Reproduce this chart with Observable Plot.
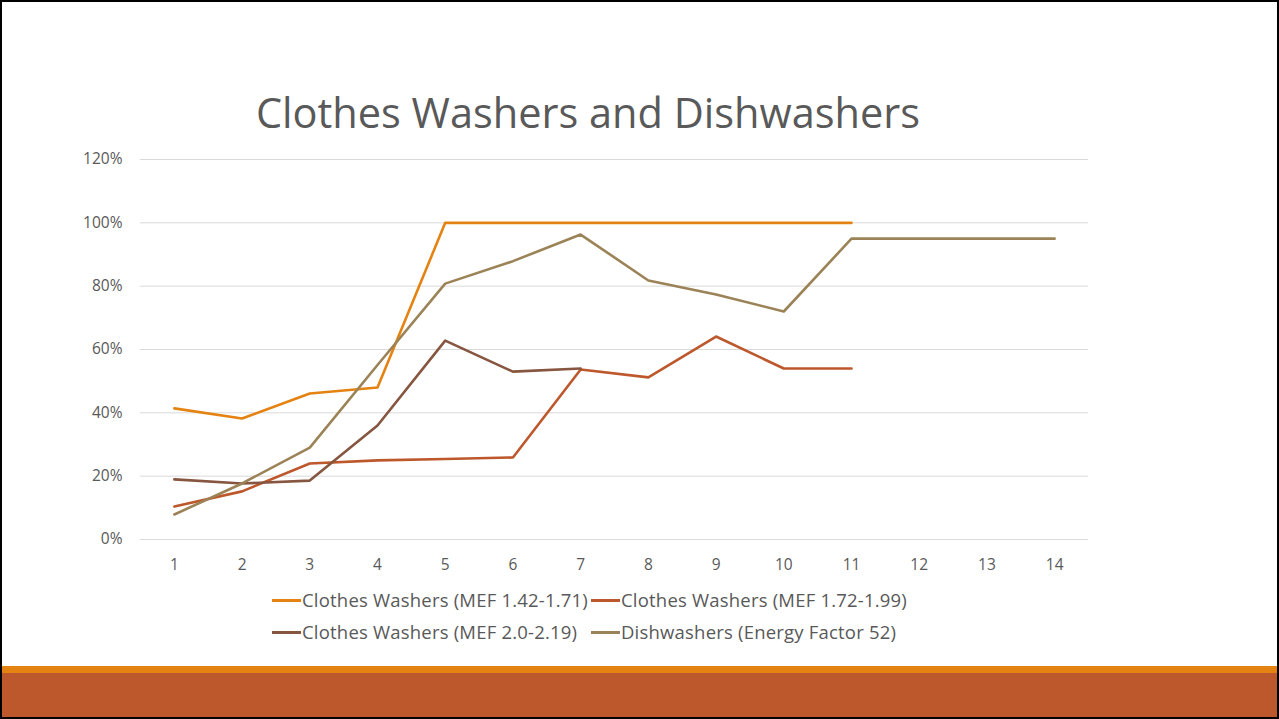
<!DOCTYPE html>
<html>
<head>
<meta charset="utf-8">
<script src="https://cdn.jsdelivr.net/npm/d3@7"></script>
<script src="https://cdn.jsdelivr.net/npm/@observablehq/plot@0.6"></script>
<style>
  html, body { margin: 0; padding: 0; background: #fff; }
  #slide {
    position: relative; width: 1279px; height: 719px; box-sizing: border-box;
    border: 2px solid #000; overflow: hidden; background: #fff;
    font-family: "Open Sans", sans-serif; color: #595959;
  }
  #title {
    position: absolute; left: 0; width: 1172px; top: 82px; text-align: center;
    font-size: 41.5px; font-weight: 400; color: #595959; line-height: 56px; white-space: nowrap;
  }
  #chart { position: absolute; left: -2px; top: -2px; width: 1279px; }
  #chart svg { max-width: none; }
  .legend-item {
    position: absolute; display: flex; align-items: center; font-size: 18.5px;
    color: #595959; white-space: nowrap; line-height: 22px; letter-spacing: 0.2px;
  }
  .legend-item .sw { width: 29px; height: 3px; margin-right: 1px; }
  #band1 { position: absolute; left: 0; right: 0; top: 664px; height: 7px; background: #E48312; }
  #band2 { position: absolute; left: 0; right: 0; top: 671px; bottom: 0; background: #BD582C; }
</style>
</head>
<body>
<div id="slide">
  <div id="title">Clothes Washers and Dishwashers</div>
  <div id="chart"></div>
  <div id="legend"></div>
  <div id="band1"></div>
  <div id="band2"></div>
</div>
<script>
// Year index along the x axis
const categories = [1, 2, 3, 4, 5, 6, 7, 8, 9, 10, 11, 12, 13, 14];

// Share of shipments meeting each level (null = no data)
const washersMef142 = [0.414, 0.382, 0.461, 0.48, 1.0, 1.0, 1.0, 1.0, 1.0, 1.0, 1.0, null, null, null];
const washersMef172 = [0.104, 0.152, 0.24, 0.25, 0.254, 0.259, 0.537, 0.512, 0.641, 0.54, 0.54, null, null, null];
const washersMef200 = [0.19, 0.177, 0.186, 0.36, 0.628, 0.53, 0.54, null, null, null, null, null, null, null];
const dishwashersEf52 = [0.079, 0.177, 0.29, 0.551, 0.808, 0.879, 0.963, 0.818, 0.774, 0.72, 0.95, 0.95, 0.95, 0.95];

const seriesNames = [
  "Clothes Washers (MEF 1.42-1.71)",
  "Clothes Washers (MEF 1.72-1.99)",
  "Clothes Washers (MEF 2.0-2.19)",
  "Dishwashers (Energy Factor 52)"
];
const seriesColors = ["#E48312", "#BD582C", "#865640", "#9B8357"];
const yTicks = [0, 0.2, 0.4, 0.6, 0.8, 1.0, 1.2];

const seriesValues = [washersMef142, washersMef172, washersMef200, dishwashersEf52];
const rows = [];
seriesValues.forEach((vals, i) => {
  vals.forEach((v, j) => rows.push({ series: seriesNames[i], x: categories[j], y: v }));
});

const chart = Plot.plot({
  width: 1279,
  height: 600,
  marginLeft: 140,
  marginRight: 191,
  marginTop: 159,
  marginBottom: 61,
  style: { fontFamily: "'Open Sans', sans-serif", fontSize: "15px", color: "#595959", background: "transparent" },
  x: { type: "point", domain: categories, padding: 0.5, round: false, label: null },
  y: { domain: [0, 1.2], label: null },
  color: { domain: seriesNames, range: seriesColors },
  marks: [
    Plot.gridY(yTicks, { stroke: "#d9d9d9", strokeOpacity: 1, strokeWidth: 1 }),
    Plot.axisY(yTicks, { tickSize: 0, tickPadding: 18, tickFormat: d => Math.round(d * 100) + "%", fill: "#595959", fontSize: 15.5 }),
    Plot.axisX(categories, { tickSize: 0, tickPadding: 19, fill: "#595959", fontSize: 15.5 }),
    Plot.line(rows, {
      x: "x", y: "y", z: "series", stroke: "series",
      strokeWidth: 2.6, strokeLinejoin: "round", strokeLinecap: "round"
    })
  ]
});
document.getElementById("chart").append(chart);

// Legend, two columns by two rows
const legend = document.getElementById("legend");
const legendPos = [[270, 587], [589, 587], [270, 619], [589, 619]];
seriesNames.forEach((name, i) => {
  const item = document.createElement("div");
  item.className = "legend-item";
  item.style.left = legendPos[i][0] + "px";
  item.style.top = legendPos[i][1] + "px";
  const sw = document.createElement("span");
  sw.className = "sw";
  sw.style.background = seriesColors[i];
  const label = document.createElement("span");
  label.textContent = name;
  item.append(sw, label);
  legend.append(item);
});
</script>
</body>
</html>
